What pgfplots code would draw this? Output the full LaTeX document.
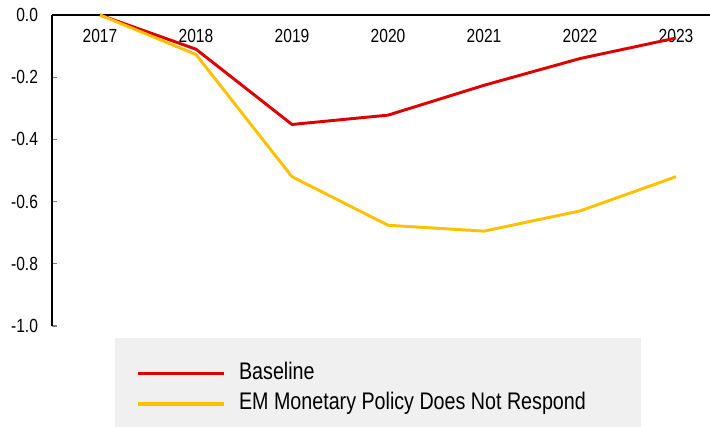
\documentclass[border=0pt]{standalone}
\usepackage{fontspec}
\setmainfont{Liberation Sans}[FakeStretch=0.82]
\usepackage{pgfplots}
\pgfplotsset{compat=1.18}
\definecolor{cred}{HTML}{DD0000}
\definecolor{cyel}{HTML}{FFC000}
\definecolor{lgray}{HTML}{F0F0F0}
\begin{document}
\begin{tikzpicture}
\begin{axis}[
  scale only axis,
  width=493.5pt, height=233.25pt,
  xmin=-0.5, xmax=6.354,
  ymin=-1, ymax=0,
  axis y line*=left,
  axis x line*=top,
  x axis line style={line width=1.5pt, -},
  y axis line style={line width=1pt, -},
  xtick={0,...,6},
  xticklabels={2017,2018,2019,2020,2021,2022,2023},
  major x tick style={draw=none},
  x tick label style={anchor=north, yshift=-7.5pt},
  ytick={-1,-0.8,...,0},
  yticklabel style={/pgf/number format/.cd, fixed, fixed zerofill, precision=1, /tikz/.cd, xshift=-7pt},
  /pgf/number format/assume math mode=true,
  tick label style={font=\fontsize{14.25}{17}\selectfont},
  tick align=inside,
  major tick length=4pt,
  major y tick style={line width=1pt},
  ticklabel style={text=black},
  legend style={
    at={(0.0957,-0.0386)}, anchor=north west,
    fill=lgray, draw=none,
    font=\fontsize{18}{21}\selectfont,
    inner xsep=16pt, inner ysep=17.75pt,
    row sep=6pt,
    nodes={inner sep=0pt, text height=13pt, text depth=4pt},
    /tikz/every odd column/.append style={column sep=10pt},
  },
  legend cell align=left,
  legend image code/.code={\draw[#1, line width=2.4pt] (0pt,0pt) -- (64.5pt,0pt);},
  clip=false,
]
\addplot[cred, line width=2.2pt] coordinates {(0,0) (1,-0.11) (2,-0.352) (3,-0.322) (4,-0.226) (5,-0.14) (6,-0.074)};
\addlegendentry{Baseline}
\addplot[cyel, line width=2.2pt] coordinates {(0,0) (1,-0.127) (2,-0.52) (3,-0.676) (4,-0.695) (5,-0.63) (6,-0.52)};
\addlegendentry{EM Monetary Policy Does Not Respond\hspace*{25.5pt}\null}
\coordinate (bl) at (rel axis cs:0,0);
\coordinate (tr) at (rel axis cs:1,1);
\end{axis}
\pgfresetboundingbox
\path ([shift={(-39pt,-75pt)}]bl) rectangle ([shift={(0pt,11.25pt)}]tr);
\end{tikzpicture}
\end{document}
